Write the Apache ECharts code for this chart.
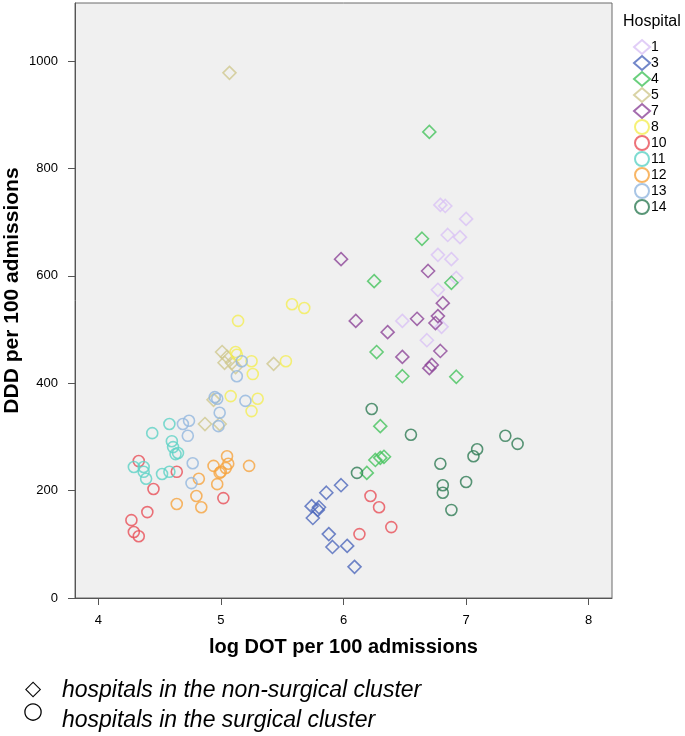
<!DOCTYPE html>
<html>
<head>
<meta charset="utf-8">
<script src="https://cdn.jsdelivr.net/npm/echarts@6/dist/echarts.min.js"></script>
<style>
html,body{margin:0;padding:0;background:#fff;}
#chart{width:685px;height:736px;}
</style>
</head>
<body>
<div id="chart"></div>
<script>
// Hospitals (legend order), marker type and colour
const hospitals = ['1','3','4','5','7','8','10','11','12','13','14'];
const clusterShape = ['diamond','diamond','diamond','diamond','diamond','circle','circle','circle','circle','circle','circle'];
const hospitalColors = ['#d9c2f5','#4d68bb','#45c35c','#d0c88e','#8d4699','#f4ee55','#e94f58','#5ed2c5','#f6a43e','#92b6de','#2f7c55'];

// [log DOT per 100 admissions, DDD per 100 admissions]
const h1  = [[6.79,732],[6.83,730],[7.00,706],[6.85,676],[6.95,672],[6.77,639],[6.88,631],[6.92,596],[6.77,574],[6.48,516],[6.80,505],[6.68,480]];
const h3  = [[5.98,210],[5.86,196],[5.74,171],[5.80,169],[5.79,164],[5.75,149],[5.88,119],[5.91,95],[6.03,97],[6.09,58]];
const h4  = [[6.70,868],[6.64,669],[6.25,590],[6.88,587],[6.27,458],[6.48,413],[6.92,412],[6.30,320],[6.26,257],[6.30,261],[6.33,263],[6.19,233]];
const h5  = [[5.07,978],[5.01,458],[5.05,449],[5.03,438],[5.09,438],[5.12,430],[5.43,436],[4.94,369],[4.87,324],[4.99,324]];
const h7  = [[5.98,631],[6.10,516],[6.36,495],[6.48,449],[6.69,609],[6.81,549],[6.60,520],[6.77,525],[6.75,512],[6.79,460],[6.70,428],[6.72,434]];
const h8  = [[5.58,547],[5.68,540],[5.14,516],[5.12,458],[5.13,453],[5.25,441],[5.53,441],[5.26,417],[5.08,376],[5.30,371],[5.25,348]];
const h10 = [[4.33,255],[4.64,235],[4.45,203],[5.02,186],[4.40,160],[4.27,145],[4.29,123],[4.33,115],[6.22,190],[6.29,169],[6.39,132],[6.13,119]];
const h11 = [[4.58,324],[4.44,307],[4.60,292],[4.61,281],[4.63,268],[4.65,270],[4.29,244],[4.37,244],[4.37,235],[4.39,222],[4.52,231],[4.58,235]];
const h12 = [[5.05,264],[5.06,250],[4.94,246],[5.04,242],[5.00,235],[4.99,233],[5.23,246],[4.82,222],[4.97,212],[4.80,190],[4.64,175],[4.84,169]];
const h13 = [[5.17,441],[5.13,413],[4.95,374],[4.97,371],[5.20,367],[4.99,345],[4.98,320],[4.74,330],[4.69,324],[4.73,302],[4.77,251],[4.76,214]];
const h14 = [[6.23,352],[6.11,233],[6.55,304],[7.32,302],[7.42,287],[7.09,277],[7.06,264],[6.79,250],[7.00,216],[6.81,210],[6.81,196],[6.88,164]];
const hospitalData = [h1,h3,h4,h5,h7,h8,h10,h11,h12,h13,h14];

const xTicks = [4,5,6,7,8];
const yTicks = [0,200,400,600,800,1000];

const FONT = 'Liberation Sans, Arial, sans-serif';
const chart = echarts.init(document.getElementById('chart'));
const series = hospitals.map((name, i) => ({
  name: name,
  type: 'scatter',
  symbol: clusterShape[i],
  symbolSize: clusterShape[i] === 'diamond' ? 13 : 11,
  data: hospitalData[i],
  itemStyle: { color: 'rgba(0,0,0,0)', borderColor: hospitalColors[i], borderWidth: 1.6 },
  emphasis: { disabled: true }
}));

chart.setOption({
  animation: false,
  backgroundColor: '#ffffff',
  title: {
    text: 'Hospital', left: 618, top: 9,
    textStyle: { fontFamily: FONT, fontSize: 16, fontWeight: 'normal', color: '#000' }
  },
  legend: {
    orient: 'vertical', left: 628, top: 34,
    itemWidth: 16, itemHeight: 14, itemGap: 0,
    textStyle: { fontFamily: FONT, fontSize: 14, lineHeight: 16, color: '#000', padding: [0,0,0,-4] },
    data: hospitals
  },
  grid: {
    left: 75, right: 73, top: 3, bottom: 138,
    outerBoundsMode: 'none', containLabel: false,
    show: true, backgroundColor: '#f0f0f0', borderColor: '#6b6b6b', borderWidth: 1
  },
  xAxis: {
    type: 'value', min: 3.81, max: 8.19,
    name: 'log DOT per 100 admissions', nameLocation: 'middle', nameGap: 39, nameMoveOverlap: false,
    nameTextStyle: { fontFamily: FONT, fontSize: 20, fontWeight: 'bold', color: '#000' },
    axisLine: { show: true, lineStyle: { color: '#555', width: 1 } },
    axisTick: { show: true, length: 7, customValues: xTicks, lineStyle: { color: '#555' } },
    axisLabel: { customValues: xTicks, margin: 16, fontFamily: FONT, fontSize: 13, color: '#000' },
    splitLine: { show: false }
  },
  yAxis: {
    type: 'value', min: 0, max: 1108,
    name: 'DDD per 100 admissions', nameLocation: 'middle', nameGap: 52, nameRotate: 90, nameMoveOverlap: false,
    nameTextStyle: { fontFamily: FONT, fontSize: 21, fontWeight: 'bold', color: '#000', padding: [0,0,0,20] },
    axisLine: { show: true, lineStyle: { color: '#555', width: 1 } },
    axisTick: { show: true, length: 7, customValues: yTicks, lineStyle: { color: '#555' } },
    axisLabel: { customValues: yTicks, margin: 17, fontFamily: FONT, fontSize: 13, color: '#000',
                 formatter: v => String(v) },
    splitLine: { show: false }
  },
  graphic: [
    { type: 'text', left: 25, top: 679, style: { text: '◇', font: '21px DejaVu Sans', fill: '#000' } },
    { type: 'text', left: 23, top: 701, style: { text: '○', font: '23px DejaVu Sans', fill: '#000' } },
    { type: 'text', left: 62, top: 679, style: { text: 'hospitals in the non-surgical cluster', font: 'italic 23px Liberation Sans, Arial, sans-serif', fill: '#000' } },
    { type: 'text', left: 62, top: 709, style: { text: 'hospitals in the surgical cluster', font: 'italic 23px Liberation Sans, Arial, sans-serif', fill: '#000' } }
  ],
  series: series
});
</script>
</body>
</html>
